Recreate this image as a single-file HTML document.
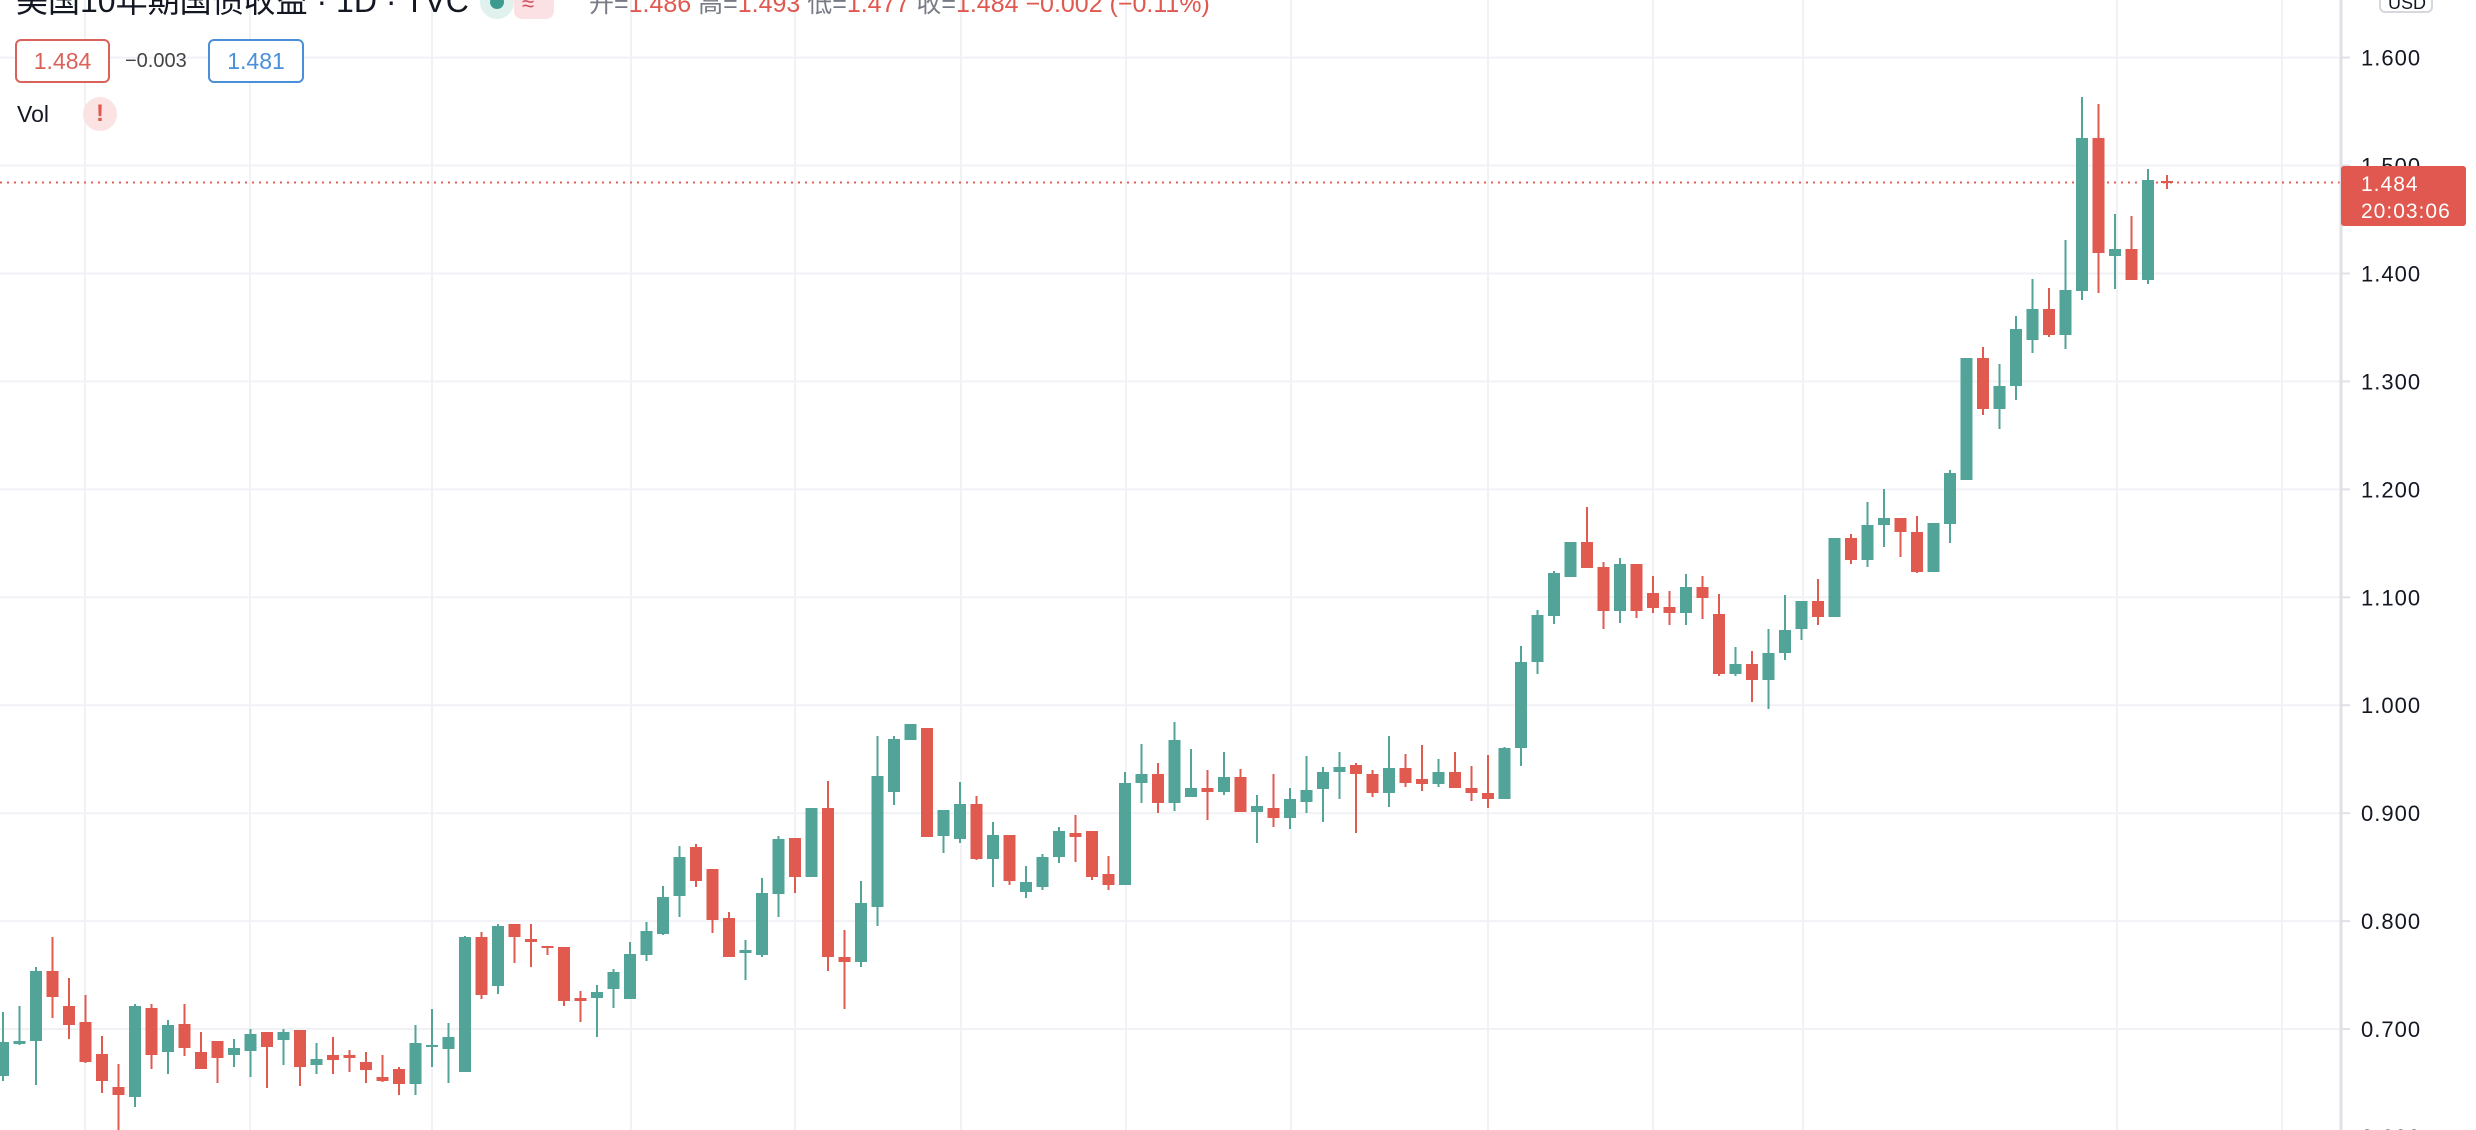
<!DOCTYPE html>
<html><head><meta charset="utf-8"><style>
html,body{margin:0;padding:0;background:#fff;width:2476px;height:1130px;overflow:hidden;position:relative;font-family:"Liberation Sans","Noto Sans CJK SC",sans-serif}
.t{position:absolute;white-space:nowrap}
</style></head><body>
<svg width="2476" height="1130" style="position:absolute;left:0;top:0">
<g stroke="#f0f2f6" stroke-width="2">
<line x1="0" y1="57.6" x2="2341" y2="57.6"/><line x1="0" y1="165.5" x2="2341" y2="165.5"/><line x1="0" y1="273.5" x2="2341" y2="273.5"/><line x1="0" y1="381.4" x2="2341" y2="381.4"/><line x1="0" y1="489.4" x2="2341" y2="489.4"/><line x1="0" y1="597.3" x2="2341" y2="597.3"/><line x1="0" y1="705.2" x2="2341" y2="705.2"/><line x1="0" y1="813.2" x2="2341" y2="813.2"/><line x1="0" y1="921.1" x2="2341" y2="921.1"/><line x1="0" y1="1029" x2="2341" y2="1029"/>
<line x1="85" y1="0" x2="85" y2="1130"/><line x1="250" y1="0" x2="250" y2="1130"/><line x1="432" y1="0" x2="432" y2="1130"/><line x1="631" y1="0" x2="631" y2="1130"/><line x1="795" y1="0" x2="795" y2="1130"/><line x1="961" y1="0" x2="961" y2="1130"/><line x1="1126" y1="0" x2="1126" y2="1130"/><line x1="1291" y1="0" x2="1291" y2="1130"/><line x1="1488" y1="0" x2="1488" y2="1130"/><line x1="1653" y1="0" x2="1653" y2="1130"/><line x1="1803" y1="0" x2="1803" y2="1130"/><line x1="2117" y1="0" x2="2117" y2="1130"/><line x1="2282" y1="0" x2="2282" y2="1130"/>
</g>
<line x1="0" y1="182.5" x2="2341" y2="182.5" stroke="#e0605a" stroke-width="2" stroke-dasharray="2 5"/>
<path fill="#52a398" d="M-3 1042h12v34h-12zM2 1012h2v69h-2zM13.5 1041h12v3h-12zM18.5 1006h2v39h-2zM30 971h12v70h-12zM35 967h2v118h-2zM129 1006h12v91h-12zM134 1004h2v103h-2zM162 1025h12v27h-12zM167 1020h2v54h-2zM228 1048h12v7h-12zM233 1039h2v28h-2zM244.5 1034h12v17h-12zM249.5 1029h2v48h-2zM277.5 1032h12v8h-12zM282.5 1029h2v36h-2zM310.5 1059h12v6h-12zM315.5 1043h2v31h-2zM409.5 1043h12v41h-12zM414.5 1025h2v70h-2zM426 1045h12v2h-12zM431 1009h2v58h-2zM442.5 1037h12v12h-12zM447.5 1023h2v60h-2zM459 937h12v135h-12zM464 936h2v136h-2zM492 926h12v60h-12zM497 924h2v70h-2zM591 992h12v6h-12zM596 985h2v52h-2zM607.5 972h12v17h-12zM612.5 969h2v39h-2zM624 954h12v45h-12zM629 942h2v57h-2zM640.5 931h12v24h-12zM645.5 922h2v39h-2zM657 897h12v37h-12zM662 886h2v49h-2zM673.5 857h12v39h-12zM678.5 846h2v71h-2zM739.5 950h12v3h-12zM744.5 940h2v40h-2zM756 893h12v62h-12zM761 878h2v79h-2zM772.5 839h12v55h-12zM777.5 836h2v81h-2zM805.5 808h12v69h-12zM855 903h12v59h-12zM860 881h2v86h-2zM871.5 776h12v131h-12zM876.5 736h2v190h-2zM888 739h12v53h-12zM893 736h2v69h-2zM904.5 724h12v16h-12zM937.5 810h12v26h-12zM942.5 810h2v43h-2zM954 804h12v35h-12zM959 782h2v61h-2zM987 835h12v24h-12zM992 822h2v65h-2zM1020 882h12v10h-12zM1025 866h2v32h-2zM1036.5 857h12v30h-12zM1041.5 854h2v36h-2zM1053 831h12v26h-12zM1058 827h2v36h-2zM1119 783h12v102h-12zM1124 772h2v113h-2zM1135.5 774h12v9h-12zM1140.5 744h2v59h-2zM1168.5 740h12v63h-12zM1173.5 722h2v89h-2zM1185 788h12v9h-12zM1190 749h2v48h-2zM1218 777h12v15h-12zM1223 752h2v43h-2zM1251 806h12v6h-12zM1256 795h2v48h-2zM1284 799h12v19h-12zM1289 788h2v41h-2zM1300.5 790h12v12h-12zM1305.5 756h2v57h-2zM1317 772h12v17h-12zM1322 767h2v55h-2zM1333.5 767h12v5h-12zM1338.5 752h2v47h-2zM1383 768h12v25h-12zM1388 736h2v71h-2zM1432.5 772h12v12h-12zM1437.5 759h2v28h-2zM1498.5 748h12v51h-12zM1503.5 747h2v52h-2zM1515 662h12v86h-12zM1520 646h2v120h-2zM1531.5 615h12v47h-12zM1536.5 610h2v64h-2zM1548 573h12v43h-12zM1553 571h2v53h-2zM1564.5 542h12v35h-12zM1614 564h12v47h-12zM1619 558h2v65h-2zM1680 587h12v26h-12zM1685 574h2v51h-2zM1729.5 664h12v10h-12zM1734.5 647h2v29h-2zM1762.5 653h12v27h-12zM1767.5 629h2v80h-2zM1779 630h12v23h-12zM1784 595h2v65h-2zM1795.5 601h12v28h-12zM1800.5 601h2v39h-2zM1828.5 538h12v79h-12zM1861.5 525h12v35h-12zM1866.5 502h2v65h-2zM1878 518h12v7h-12zM1883 489h2v58h-2zM1927.5 523h12v49h-12zM1944 473h12v51h-12zM1949 470h2v73h-2zM1960.5 358h12v122h-12zM1993.5 386h12v23h-12zM1998.5 364h2v65h-2zM2010 329h12v57h-12zM2015 316h2v84h-2zM2026.5 309h12v31h-12zM2031.5 279h2v74h-2zM2059.5 290h12v45h-12zM2064.5 240h2v109h-2zM2076 138h12v153h-12zM2081 97h2v203h-2zM2109 249h12v7h-12zM2114 214h2v75h-2zM2142 180h12v100h-12zM2147 169h2v115h-2z"/>
<path fill="#e05a50" d="M46.5 971h12v26h-12zM51.5 937h2v81h-2zM63 1006h12v19h-12zM68 978h2v61h-2zM79.5 1022h12v40h-12zM84.5 995h2v68h-2zM96 1054h12v27h-12zM101 1036h2v57h-2zM112.5 1087h12v8h-12zM117.5 1064h2v66h-2zM145.5 1008h12v47h-12zM150.5 1004h2v65h-2zM178.5 1024h12v24h-12zM183.5 1004h2v52h-2zM195 1052h12v17h-12zM200 1032h2v37h-2zM211.5 1041h12v17h-12zM216.5 1041h2v42h-2zM261 1032h12v15h-12zM266 1032h2v56h-2zM294 1030h12v37h-12zM299 1030h2v56h-2zM327 1055h12v5h-12zM332 1037h2v37h-2zM343.5 1055h12v3h-12zM348.5 1050h2v22h-2zM360 1062h12v8h-12zM365 1052h2v31h-2zM376.5 1077h12v4h-12zM381.5 1055h2v27h-2zM393 1069h12v15h-12zM398 1067h2v28h-2zM475.5 937h12v58h-12zM480.5 932h2v67h-2zM508.5 924h12v13h-12zM513.5 924h2v39h-2zM525 939h12v3h-12zM530 924h2v43h-2zM541.5 946h12v2h-12zM546.5 946h2v9h-2zM558 947h12v54h-12zM563 947h2v59h-2zM574.5 998h12v3h-12zM579.5 991h2v31h-2zM690 847h12v34h-12zM695 844h2v43h-2zM706.5 869h12v51h-12zM711.5 869h2v64h-2zM723 918h12v39h-12zM728 912h2v45h-2zM789 838h12v39h-12zM794 838h2v55h-2zM822 808h12v149h-12zM827 781h2v190h-2zM838.5 957h12v5h-12zM843.5 930h2v79h-2zM921 728h12v109h-12zM970.5 804h12v55h-12zM975.5 796h2v64h-2zM1003.5 835h12v46h-12zM1008.5 835h2v50h-2zM1069.5 833h12v4h-12zM1074.5 815h2v47h-2zM1086 831h12v46h-12zM1091 831h2v49h-2zM1102.5 874h12v11h-12zM1107.5 856h2v34h-2zM1152 774h12v29h-12zM1157 763h2v50h-2zM1201.5 788h12v4h-12zM1206.5 770h2v50h-2zM1234.5 777h12v35h-12zM1239.5 769h2v43h-2zM1267.5 808h12v10h-12zM1272.5 774h2v53h-2zM1350 765h12v9h-12zM1355 763h2v70h-2zM1366.5 774h12v19h-12zM1371.5 770h2v27h-2zM1399.5 768h12v15h-12zM1404.5 754h2v33h-2zM1416 779h12v5h-12zM1421 745h2v46h-2zM1449 772h12v16h-12zM1454 752h2v36h-2zM1465.5 788h12v5h-12zM1470.5 766h2v35h-2zM1482 793h12v6h-12zM1487 755h2v53h-2zM1581 542h12v26h-12zM1586 507h2v61h-2zM1597.5 567h12v44h-12zM1602.5 562h2v67h-2zM1630.5 564h12v47h-12zM1635.5 564h2v54h-2zM1647 593h12v15h-12zM1652 576h2v37h-2zM1663.5 607h12v6h-12zM1668.5 591h2v34h-2zM1696.5 587h12v11h-12zM1701.5 576h2v43h-2zM1713 614h12v60h-12zM1718 594h2v82h-2zM1746 664h12v16h-12zM1751 651h2v51h-2zM1812 601h12v16h-12zM1817 579h2v46h-2zM1845 538h12v22h-12zM1850 534h2v30h-2zM1894.5 518h12v14h-12zM1899.5 518h2v39h-2zM1911 532h12v40h-12zM1916 516h2v57h-2zM1977 358h12v51h-12zM1982 347h2v68h-2zM2043 309h12v26h-12zM2048 288h2v49h-2zM2092.5 138h12v115h-12zM2097.5 104h2v189h-2zM2125.5 249h12v31h-12zM2130.5 216h2v64h-2zM2161 181h12v2h-12zM2166 175h2v14h-2z"/>
<line x1="2341" y1="0" x2="2341" y2="1130" stroke="#dfe1e6" stroke-width="3"/>
<g stroke="#dfe1e6" stroke-width="2"><line x1="2341" y1="57.6" x2="2350" y2="57.6"/><line x1="2341" y1="165.5" x2="2350" y2="165.5"/><line x1="2341" y1="273.5" x2="2350" y2="273.5"/><line x1="2341" y1="381.4" x2="2350" y2="381.4"/><line x1="2341" y1="489.4" x2="2350" y2="489.4"/><line x1="2341" y1="597.3" x2="2350" y2="597.3"/><line x1="2341" y1="705.2" x2="2350" y2="705.2"/><line x1="2341" y1="813.2" x2="2350" y2="813.2"/><line x1="2341" y1="921.1" x2="2350" y2="921.1"/><line x1="2341" y1="1029" x2="2350" y2="1029"/></g>
<g font-family="Liberation Sans, sans-serif" font-size="22" fill="#131722" letter-spacing="1">
<text x="2361" y="65.6">1.600</text><text x="2361" y="173.5">1.500</text><text x="2361" y="281.5">1.400</text><text x="2361" y="389.4">1.300</text><text x="2361" y="497.4">1.200</text><text x="2361" y="605.3">1.100</text><text x="2361" y="713.2">1.000</text><text x="2361" y="821.2">0.900</text><text x="2361" y="929.1">0.800</text><text x="2361" y="1037">0.700</text><text x="2361" y="1145">0.600</text>
</g>
<rect x="2341" y="166" width="125" height="60" rx="3" fill="#e0584f"/>
<text x="2361" y="191" font-family="Liberation Sans, sans-serif" font-size="21" fill="#fff" letter-spacing="1">1.484</text>
<text x="2361" y="218" font-family="Liberation Sans, sans-serif" font-size="21" fill="#fff" letter-spacing="1">20:03:06</text>
<rect x="2380" y="-12" width="52" height="24" rx="5" fill="#fff" stroke="#d6d8de" stroke-width="2"/>
<text x="2388" y="9" font-family="Liberation Sans, sans-serif" font-size="18" fill="#131722">USD</text>
<circle cx="497" cy="2" r="17" fill="#e0f1ee"/><circle cx="497" cy="2" r="7" fill="#3b9b8f"/>
<rect x="514" y="-20" width="40" height="39" rx="8" fill="#fbe1e3"/>
<text x="522" y="11" font-size="22" fill="#d1495b" font-family="Liberation Sans, sans-serif">≈</text>
<rect x="16" y="40" width="93" height="42" rx="5" fill="#fff" stroke="#d9625b" stroke-width="2"/>
<rect x="209" y="40" width="94" height="42" rx="5" fill="#fff" stroke="#4a8fd8" stroke-width="2"/>
<circle cx="100" cy="114" r="17" fill="#fbe3e3"/>
</svg>
<div class="t" style="left:16px;top:-24px;font-size:32px;color:#131722;font-family:'Liberation Sans','Noto Sans CJK SC',sans-serif">美国10年期国债收益 · 1D · TVC</div>
<div class="t" style="left:589px;top:-16px;font-size:25px;color:#787b86;font-family:'Liberation Sans','Noto Sans CJK SC',sans-serif">开=<span style="color:#e0584f">1.486</span> 高=<span style="color:#e0584f">1.493</span> 低=<span style="color:#e0584f">1.477</span> 收=<span style="color:#e0584f">1.484</span> <span style="color:#e0584f">−0.002 (−0.11%)</span></div>
<div class="t" style="left:16px;top:40px;width:93px;line-height:42px;text-align:center;font-size:23px;color:#d9625b">1.484</div>
<div class="t" style="left:125px;top:40px;line-height:42px;font-size:20px;color:#444">−0.003</div>
<div class="t" style="left:209px;top:40px;width:94px;line-height:42px;text-align:center;font-size:23px;color:#4a8fd8">1.481</div>
<div class="t" style="left:17px;top:100px;line-height:28px;font-size:23px;color:#131722">Vol</div>
<div class="t" style="left:83px;top:98px;width:34px;line-height:32px;text-align:center;font-size:24px;font-weight:bold;color:#e0584f">!</div>
</body></html>
